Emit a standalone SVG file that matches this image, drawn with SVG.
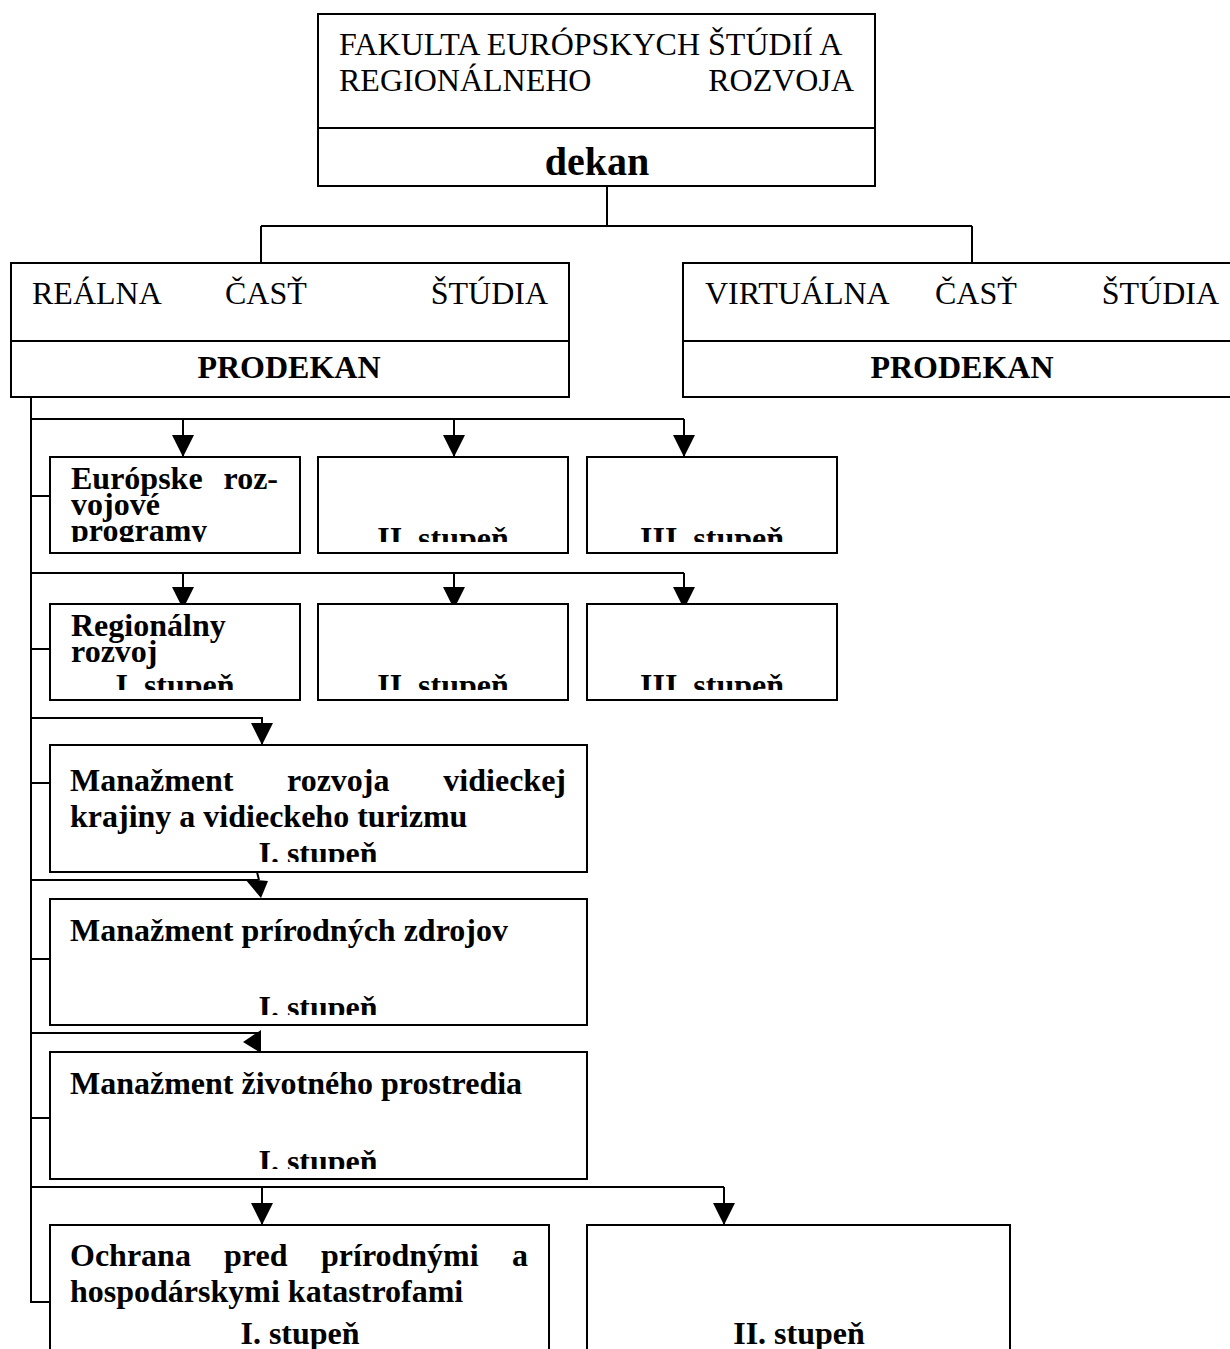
<svg xmlns="http://www.w3.org/2000/svg" width="1230" height="1349" viewBox="0 0 1230 1349">
<style>
  .box{fill:#fff;stroke:#000;stroke-width:2}
  .ln{fill:none;stroke:#000;stroke-width:2}
  .ah{fill:#000;stroke:none}
  .r{font-family:"Liberation Serif","Times New Roman",serif;font-size:32px;fill:#000}
  .b{font-family:"Liberation Serif","Times New Roman",serif;font-size:32px;font-weight:bold;fill:#000}
  .c{text-anchor:middle}
  .e{text-anchor:end}
</style>
<defs>
  <marker id="arr" markerUnits="userSpaceOnUse" markerWidth="24" markerHeight="24" refX="22" refY="11" orient="auto">
    <path d="M0,0 L22,11 L0,22 z" fill="#000"/>
  </marker>
  <clipPath id="c11"><rect x="51" y="458" width="248" height="84"/></clipPath>
  <clipPath id="c12"><rect x="319" y="458" width="248" height="84"/></clipPath>
  <clipPath id="c13"><rect x="588" y="458" width="248" height="84"/></clipPath>
  <clipPath id="c21"><rect x="51" y="605" width="248" height="85"/></clipPath>
  <clipPath id="c22"><rect x="319" y="605" width="248" height="85"/></clipPath>
  <clipPath id="c23"><rect x="588" y="605" width="248" height="85"/></clipPath>
  <clipPath id="c3"><rect x="51" y="746" width="535" height="116"/></clipPath>
  <clipPath id="c4"><rect x="51" y="900" width="535" height="115"/></clipPath>
  <clipPath id="c5"><rect x="51" y="1053" width="535" height="116"/></clipPath>
</defs>
<rect width="1230" height="1349" fill="#fff"/>

<g id="connectors">
  <path class="ln" d="M607,186 V226 M261,226 H972 M261,226 V263 M972,226 V263"/>
  <path class="ln" d="M31,397 V1302 H52"/>
  <path class="ln" d="M31,419 H684 M31,496 H50"/>
  <path class="ln" d="M183,419 V457" marker-end="url(#arr)"/>
  <path class="ln" d="M454,419 V457" marker-end="url(#arr)"/>
  <path class="ln" d="M684,419 V457" marker-end="url(#arr)"/>
  <path class="ln" d="M31,573 H684 M31,649 H50"/>
  <path class="ln" d="M183,573 V609" marker-end="url(#arr)"/>
  <path class="ln" d="M454,573 V609" marker-end="url(#arr)"/>
  <path class="ln" d="M684,573 V609" marker-end="url(#arr)"/>
  <path class="ln" d="M31,718 H262 V745" marker-end="url(#arr)"/>
  <path class="ln" d="M31,783 H50"/>
  <path class="ln" d="M31,880 H258 M257,872 L259,880 M31,959 H50"/>
  <polygon class="ah" points="245,879 268,881 261,898"/>
  <path class="ln" d="M31,1033 H261 M31,1118 H50"/>
  <polygon class="ah" points="261,1030 243,1042 261,1053"/>
  <path class="ln" d="M31,1187 H724"/>
  <path class="ln" d="M262,1187 V1225" marker-end="url(#arr)"/>
  <path class="ln" d="M724,1187 V1225" marker-end="url(#arr)"/>
</g>

<g id="fakulta">
  <rect class="box" x="318" y="14" width="557" height="172"/>
  <line class="ln" x1="318" y1="128" x2="875" y2="128"/>
  <text class="r" x="339" y="55">FAKULTA EURÓPSKYCH ŠTÚDIÍ A</text>
  <text class="r" x="339" y="91">REGIONÁLNEHO</text>
  <text class="r e" x="854" y="91">ROZVOJA</text>
  <text class="b c" x="597" y="175" style="font-size:40px">dekan</text>
</g>

<g id="realna">
  <rect class="box" x="11" y="263" width="558" height="134"/>
  <line class="ln" x1="11" y1="341" x2="569" y2="341"/>
  <text class="r" x="32" y="304">REÁLNA</text>
  <text class="r" x="225" y="304">ČASŤ</text>
  <text class="r e" x="548" y="304">ŠTÚDIA</text>
  <text class="b c" x="289" y="378">PRODEKAN</text>
</g>

<g id="virtualna">
  <rect class="box" x="683" y="263" width="560" height="134"/>
  <line class="ln" x1="683" y1="341" x2="1243" y2="341"/>
  <text class="r" x="705" y="304">VIRTUÁLNA</text>
  <text class="r" x="935" y="304">ČASŤ</text>
  <text class="r e" x="1219" y="304">ŠTÚDIA</text>
  <text class="b c" x="962" y="378">PRODEKAN</text>
</g>

<g id="erp1">
  <rect class="box" x="50" y="457" width="250" height="96"/>
  <g clip-path="url(#c11)">
    <text class="b" x="71" y="489">Európske</text>
    <text class="b e" x="278" y="489">roz-</text>
    <text class="b" x="71" y="515">vojové</text>
    <text class="b" x="71" y="541">programy</text>
  </g>
</g>
<g id="erp2">
  <rect class="box" x="318" y="457" width="250" height="96"/>
  <text class="b c" x="443" y="549" clip-path="url(#c12)">II. stupeň</text>
</g>
<g id="erp3">
  <rect class="box" x="587" y="457" width="250" height="96"/>
  <text class="b c" x="712" y="549" clip-path="url(#c13)">III. stupeň</text>
</g>

<g id="rr1">
  <rect class="box" x="50" y="604" width="250" height="96"/>
  <g clip-path="url(#c21)">
    <text class="b" x="71" y="636">Regionálny</text>
    <text class="b" x="71" y="662">rozvoj</text>
    <text class="b c" x="175" y="696">I. stupeň</text>
  </g>
</g>
<g id="rr2">
  <rect class="box" x="318" y="604" width="250" height="96"/>
  <text class="b c" x="443" y="696" clip-path="url(#c22)">II. stupeň</text>
</g>
<g id="rr3">
  <rect class="box" x="587" y="604" width="250" height="96"/>
  <text class="b c" x="712" y="696" clip-path="url(#c23)">III. stupeň</text>
</g>

<g id="mrvk">
  <rect class="box" x="50" y="745" width="537" height="127"/>
  <g clip-path="url(#c3)">
    <text class="b" x="70" y="791">Manažment</text>
    <text class="b" x="287" y="791">rozvoja</text>
    <text class="b e" x="566" y="791">vidieckej</text>
    <text class="b" x="70" y="827">krajiny a vidieckeho turizmu</text>
    <text class="b c" x="318" y="864">I. stupeň</text>
  </g>
</g>

<g id="mpz">
  <rect class="box" x="50" y="899" width="537" height="126"/>
  <g clip-path="url(#c4)">
    <text class="b" x="70" y="941">Manažment prírodných zdrojov</text>
    <text class="b c" x="318" y="1018">I. stupeň</text>
  </g>
</g>

<g id="mzp">
  <rect class="box" x="50" y="1052" width="537" height="127"/>
  <g clip-path="url(#c5)">
    <text class="b" x="70" y="1094">Manažment životného prostredia</text>
    <text class="b c" x="318" y="1172">I. stupeň</text>
  </g>
</g>

<g id="ochrana1">
  <rect class="box" x="50" y="1225" width="499" height="140"/>
  <text class="b" x="70" y="1266">Ochrana</text>
  <text class="b" x="224" y="1266">pred</text>
  <text class="b" x="321" y="1266">prírodnými</text>
  <text class="b e" x="528" y="1266">a</text>
  <text class="b" x="70" y="1302">hospodárskymi katastrofami</text>
  <text class="b c" x="300" y="1344">I. stupeň</text>
</g>

<g id="ochrana2">
  <rect class="box" x="587" y="1225" width="423" height="140"/>
  <text class="b c" x="799" y="1344">II. stupeň</text>
</g>
</svg>
